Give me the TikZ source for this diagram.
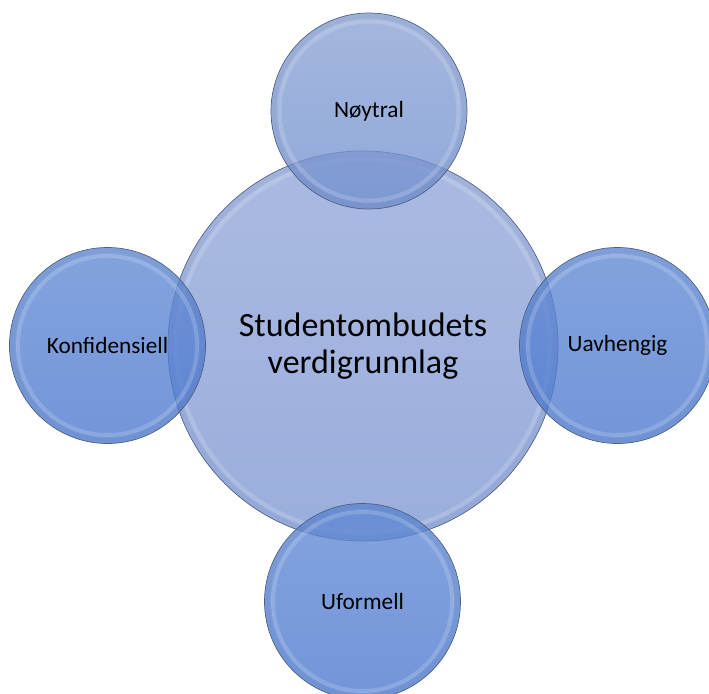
\documentclass[tikz,border=0pt]{standalone}
\usepackage{fontspec}
\setmainfont{Carlito}
\definecolor{edge}{HTML}{4C5F86}
\definecolor{ctop}{HTML}{AABAE2}
\definecolor{cbot}{HTML}{9AAEDC}
\definecolor{stop}{HTML}{6089D4}
\definecolor{sbot}{HTML}{4C78CE}
\definecolor{ttop}{HTML}{8AA2D4}
\definecolor{tbot}{HTML}{7290CF}
\begin{document}
\begin{tikzpicture}[x=1pt,y=-1pt,
  bigc/.style={circle, draw=edge, line width=0.7pt, top color=ctop, bottom color=cbot,
    minimum size=390pt, inner sep=0pt, align=center,
    font=\fontsize{34}{37}\selectfont},
  smallc/.style={circle, draw=edge, line width=0.7pt, fill opacity=0.78, text opacity=1,
    minimum size=196pt, inner sep=0pt, font=\fontsize{23.3}{26}\selectfont},
  topc/.style={smallc, top color=ttop, bottom color=tbot},
  othc/.style={smallc, top color=stop, bottom color=sbot},
  glow/.style={draw=white, line width=3pt, draw opacity=0.16},
  glowthin/.style={draw=white, line width=0.8pt, draw opacity=0.22},
  shade/.style={draw=edge, line width=4pt, draw opacity=0.08}
]
\useasboundingbox (0,0) rectangle (709,693);
\clip (0,0) rectangle (709,693);

\node[bigc] (c) at (363,346) {Studentombudets\\verdigrunnlag};
\draw[shade] (c.center) circle (192);
\draw[glow] (c.center) circle (186);
\draw[glowthin] (c.center) circle (188);

\node[topc] (n) at (369,111) {Nøytral};
\node[othc] (u) at (617.5,345.5) {Uavhengig};
\node[othc] (f) at (362.5,601.5) {Uformell};
\node[othc] (k) at (107.5,345.5) {Konfidensiell};

\foreach \p in {n,u,f,k}{
  \draw[shade] (\p.center) circle (95);
  \draw[glow] (\p.center) circle (89);
  \draw[glowthin] (\p.center) circle (91);
}
\end{tikzpicture}
\end{document}
